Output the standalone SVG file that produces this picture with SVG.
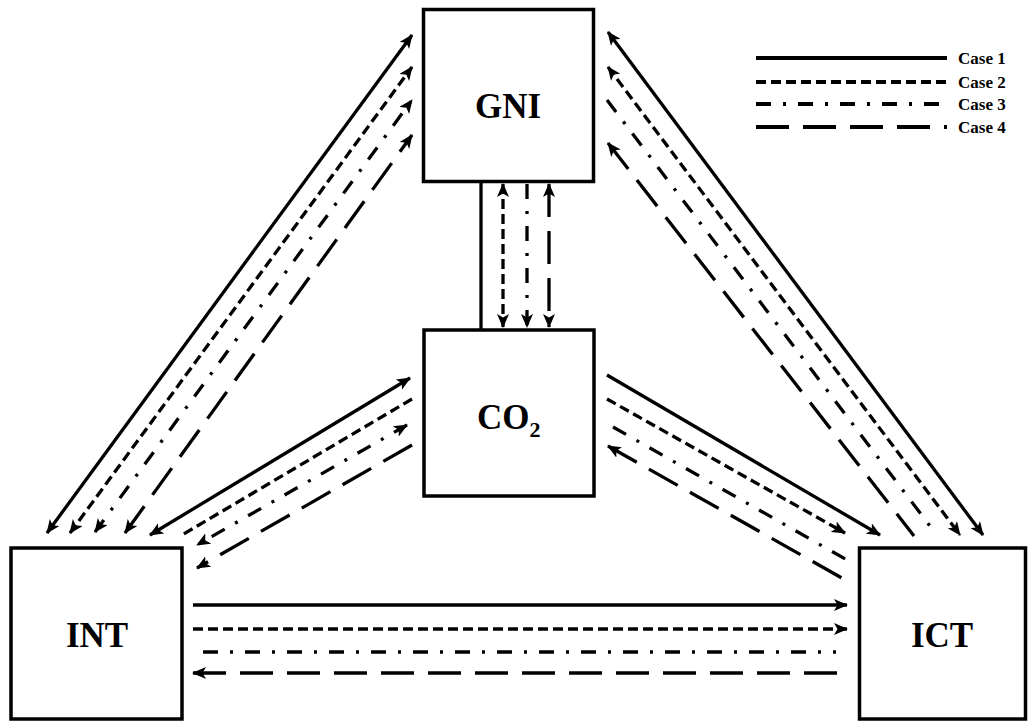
<svg xmlns="http://www.w3.org/2000/svg" width="1028" height="724" viewBox="0 0 1028 724">
  <style>
    .box { fill: #ffffff; stroke: #000000; stroke-width: 3.5; }
    .label { font-family: "Liberation Serif", "Times New Roman", serif; font-weight: bold; font-size: 35px; fill: #000000; }
    .legtxt { font-family: "Liberation Serif", "Times New Roman", serif; font-weight: bold; font-size: 17px; fill: #000000; }
    .c { fill: none; stroke: #000000; stroke-width: 3.3; }
    .c1 { }
    .c2 { stroke-dasharray: 10 5; }
    .c3 { stroke-dasharray: 15 12 3 12; }
    .c4 { stroke-dasharray: 33 14; }
    .leg { stroke-width: 4; }
    .a2 { marker-start: url(#arrow); marker-end: url(#arrow); }
    .ae { marker-end: url(#arrow); }
    .as { marker-start: url(#arrow); }
  </style>
  <defs>
    <marker id="arrow" markerUnits="userSpaceOnUse" markerWidth="15" markerHeight="12" refX="13" refY="6" orient="auto-start-reverse">
      <path d="M0,0 L14,6 L0,12 L3.5,6 z" fill="#000000"/>
    </marker>
  </defs>

  <rect width="1028" height="724" fill="#ffffff"/>

  <!-- connectors -->
  <g id="connectors">
    <!-- INT <-> GNI -->
    <line class="c c1 a2" x1="47" y1="533" x2="412" y2="35"/>
    <line class="c c2 a2" x1="70" y1="533" x2="412" y2="67"/>
    <line class="c c3 a2" x1="95" y1="532" x2="412" y2="100"/>
    <line class="c c4 a2" x1="125" y1="533" x2="412" y2="135"/>

    <!-- GNI <-> ICT -->
    <line class="c c1 a2" x1="608" y1="32" x2="983" y2="535"/>
    <line class="c c2 a2" x1="608" y1="67" x2="960" y2="535"/>
    <line class="c c3" x1="607" y1="100" x2="933" y2="530"/>
    <line class="c c4 as" x1="608" y1="143" x2="914" y2="536"/>

    <!-- GNI <-> CO2 -->
    <line class="c c1" x1="481" y1="183" x2="481" y2="329"/>
    <line class="c c2 a2" x1="503" y1="184" x2="503" y2="327"/>
    <line class="c c3 ae" x1="527" y1="184" x2="527" y2="327"/>
    <line class="c c4 a2" x1="549" y1="184" x2="549" y2="327"/>

    <!-- CO2 <-> INT -->
    <line class="c c1 a2" x1="410" y1="378" x2="150" y2="535"/>
    <line class="c c2" x1="412" y1="399" x2="182" y2="535"/>
    <line class="c c3 a2" x1="407" y1="425" x2="197" y2="545"/>
    <line class="c c4 ae" x1="412" y1="445" x2="197" y2="568"/>

    <!-- CO2 <-> ICT -->
    <line class="c c1 ae" x1="607" y1="375" x2="880" y2="535"/>
    <line class="c c2 ae" x1="607" y1="399" x2="845" y2="533"/>
    <line class="c c3" x1="613" y1="427" x2="847" y2="560"/>
    <line class="c c4 as" x1="608" y1="446" x2="849" y2="582"/>

    <!-- INT <-> ICT -->
    <line class="c c1 ae" x1="193" y1="605" x2="847" y2="605"/>
    <line class="c c2 ae" x1="193" y1="629" x2="847" y2="629"/>
    <line class="c c3" x1="203" y1="652" x2="836" y2="652"/>
    <line class="c c4 as" x1="193" y1="673" x2="847" y2="673"/>
  </g>

  <!-- nodes -->
  <g id="node-gni">
    <rect class="box" x="423.5" y="9.5" width="170" height="172"/>
    <text class="label" x="508" y="118" text-anchor="middle">GNI</text>
  </g>
  <g id="node-co2">
    <rect class="box" x="424" y="330" width="170" height="166"/>
    <text class="label" x="477" y="429">CO<tspan font-size="22" dy="8">2</tspan></text>
  </g>
  <g id="node-int">
    <rect class="box" x="11" y="548" width="171" height="171"/>
    <text class="label" x="97" y="647" text-anchor="middle">INT</text>
  </g>
  <g id="node-ict">
    <rect class="box" x="859.5" y="548" width="166" height="171"/>
    <text class="label" x="942" y="647" text-anchor="middle">ICT</text>
  </g>

  <!-- legend -->
  <g id="legend">
    <line class="c c1 leg" x1="756" y1="58" x2="947" y2="58"/>
    <line class="c c2 leg" x1="756" y1="82" x2="947" y2="82"/>
    <line class="c c3 leg" x1="756" y1="104" x2="947" y2="104"/>
    <line class="c c4 leg" x1="756" y1="127" x2="947" y2="127"/>
    <text class="legtxt" x="958" y="64">Case 1</text>
    <text class="legtxt" x="958" y="88">Case 2</text>
    <text class="legtxt" x="958" y="110">Case 3</text>
    <text class="legtxt" x="958" y="133">Case 4</text>
  </g>
</svg>
